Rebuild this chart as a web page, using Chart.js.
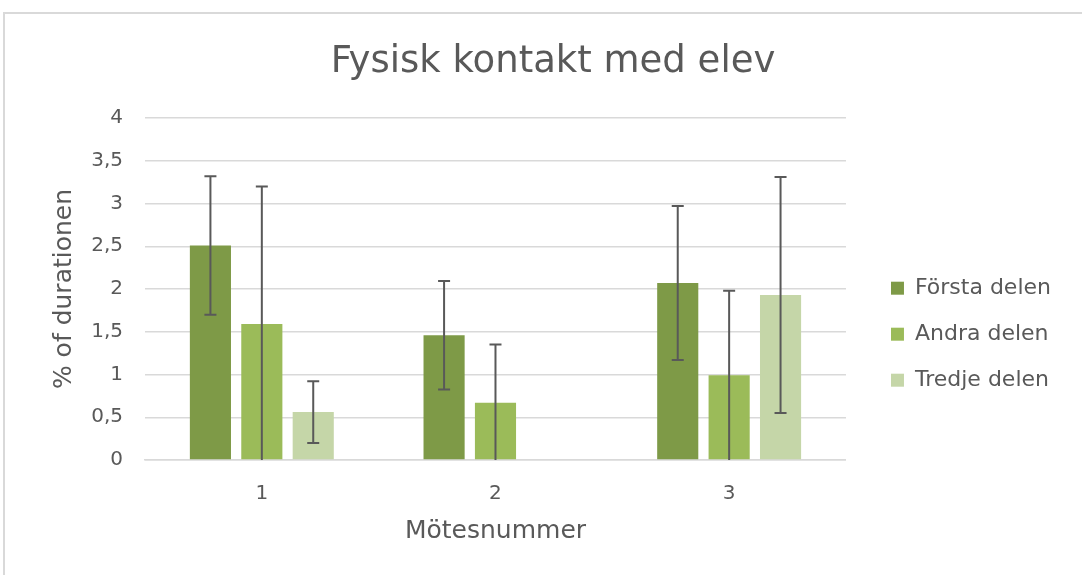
<!DOCTYPE html>
<html>
<head>
<meta charset="utf-8">
<script src="https://cdn.jsdelivr.net/npm/chart.js@4"></script>
<style>
  html, body { margin: 0; padding: 0; background: #fff; overflow: hidden; }
  #frame { position: absolute; left: 3px; top: 12px; width: 1200px; height: 700px; border: 2px solid #d9d9d9; }
  #wrap { position: absolute; left: 0; top: 0; width: 1082px; height: 575px; }
</style>
</head>
<body>
<div id="frame"></div>
<div id="wrap"><canvas id="chart"></canvas></div>
<script>
const categories = ["1", "2", "3"];
const forsta = [2.51, 1.46, 2.07];
const andra = [1.59, 0.67, 0.99];
const tredje = [0.56, 0, 1.93];
const forstaErr = [0.81, 0.635, 0.9];
const andraErr = [1.61, 0.68, 0.99];
const tredjeErr = [0.36, 0, 1.38];
const yTicks = [0, 0.5, 1, 1.5, 2, 2.5, 3, 3.5, 4];

const grey = "#595959";
const font = "'DejaVu Sans', sans-serif";

// error bars drawn from the bar elements and the y scale
const errorBars = {
  id: "errorBars",
  afterDatasetsDraw(chart) {
    const ctx = chart.ctx;
    const y = chart.scales.y;
    chart.data.datasets.forEach((ds, i) => {
      const meta = chart.getDatasetMeta(i);
      meta.data.forEach((bar, j) => {
        const v = ds.data[j];
        const e = ds.errors[j];
        if (!e) return;
        const lo = Math.max(v - e, y.min);
        const yTop = y.getPixelForValue(v + e);
        const yBot = y.getPixelForValue(lo);
        ctx.save();
        ctx.strokeStyle = grey;
        ctx.lineWidth = 2;
        ctx.beginPath();
        ctx.moveTo(bar.x, yTop);
        ctx.lineTo(bar.x, yBot);
        ctx.moveTo(bar.x - 6, yTop);
        ctx.lineTo(bar.x + 6, yTop);
        if (v - e > y.min) {
          ctx.moveTo(bar.x - 6, yBot);
          ctx.lineTo(bar.x + 6, yBot);
        }
        ctx.stroke();
        ctx.restore();
      });
    });
  }
};

new Chart(document.getElementById("chart"), {
  type: "bar",
  data: {
    labels: categories,
    datasets: [
      { label: "Första delen", data: forsta, errors: forstaErr, backgroundColor: "#7e9a47" },
      { label: "Andra delen", data: andra, errors: andraErr, backgroundColor: "#9bbb59" },
      { label: "Tredje delen", data: tredje, errors: tredjeErr, backgroundColor: "#c5d6a8" }
    ]
  },
  options: {
    responsive: true,
    maintainAspectRatio: false,
    animation: false,
    datasets: {
      bar: { categoryPercentage: 0.66, barPercentage: 0.8 }
    },
    layout: { padding: { left: 45, right: 21, bottom: 25, top: 0 } },
    plugins: {
      title: {
        display: true,
        text: "Fysisk kontakt med elev",
        color: grey,
        font: { family: font, size: 37, weight: "normal" },
        padding: { top: 40, bottom: 33.6 }
      },
      legend: {
        position: "right",
        // blank title pushes the items down a little
        title: { display: true, text: " ", font: { size: 12 }, padding: { top: 52, bottom: 52 } },
        labels: {
          color: grey,
          font: { family: font, size: 22 },
          boxWidth: 13,
          boxHeight: 13,
          padding: 24
        }
      },
      tooltip: { enabled: false }
    },
    scales: {
      x: {
        grid: { display: false },
        border: { color: "#d9d9d9", width: 1.5 },
        ticks: { color: grey, font: { family: font, size: 20 }, padding: 14 },
        title: {
          display: true,
          text: "Mötesnummer",
          color: grey,
          font: { family: font, size: 25 },
          padding: { top: -4 }
        }
      },
      y: {
        min: 0,
        max: 4,
        afterBuildTicks: (axis) => { axis.ticks = yTicks.map(v => ({ value: v })); },
        afterFit: (s) => { s.width = 100; },
        grid: { color: "#d9d9d9", lineWidth: 1.5, drawTicks: false },
        border: { display: false },
        ticks: {
          color: grey,
          font: { family: font, size: 20 },
          padding: 22,
          callback: (v) => String(v).replace(".", ",")
        },
        title: {
          display: true,
          text: "% of durationen",
          color: grey,
          font: { family: font, size: 25 },
          padding: { top: 4, bottom: 4 }
        }
      },
      // hidden right axis: only keeps the gap between plot and legend
      gap: {
        position: "right",
        display: false,
        afterFit: (s) => { s.width = 21; }
      }
    }
  },
  plugins: [errorBars]
});
</script>
</body>
</html>
